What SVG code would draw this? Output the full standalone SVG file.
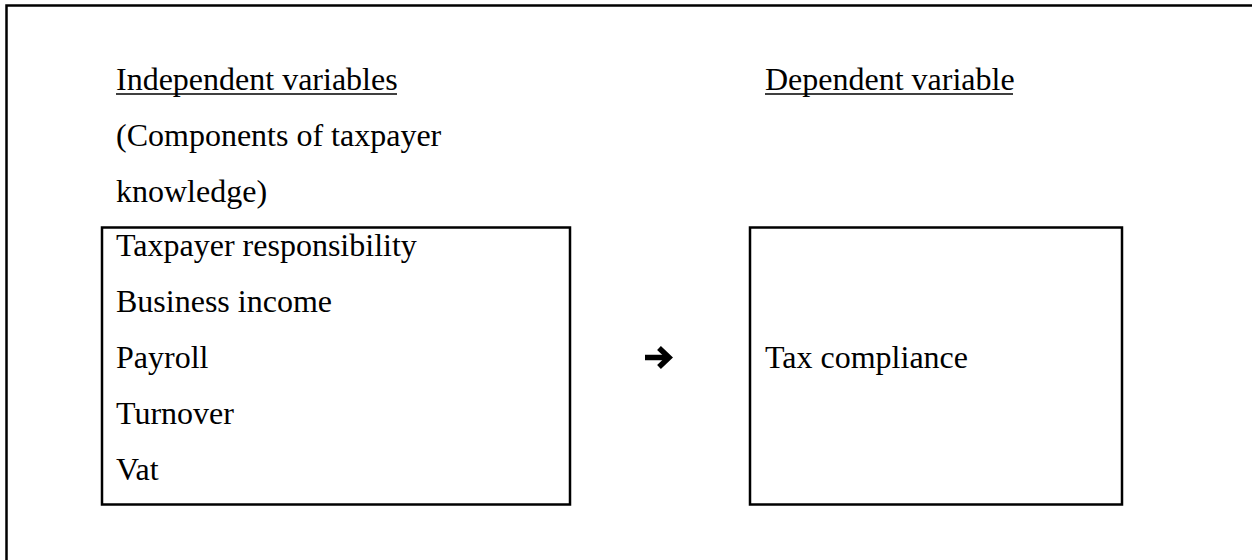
<svg xmlns="http://www.w3.org/2000/svg" width="1252" height="560" viewBox="0 0 1252 560">
<style>
text{font-family:"Liberation Serif","Times New Roman",serif;font-size:32px;fill:#000}
.box{fill:#fff;stroke:#000;stroke-width:2.5}
.ul{stroke:#000;stroke-width:1.6}
</style>
<rect x="0" y="0" width="1252" height="560" fill="#fff"/>
<rect x="6.5" y="5.5" width="1260" height="570" fill="none" stroke="#000" stroke-width="2.5"/>
<g id="header-independent">
<text x="116" y="90">Independent variables</text>
<line class="ul" x1="116" y1="94" x2="397" y2="94"/>
<text x="116" y="146">(Components of taxpayer</text>
<text x="116" y="202">knowledge)</text>
</g>
<g id="header-dependent">
<text x="765" y="90">Dependent variable</text>
<line class="ul" x1="765" y1="94" x2="1013" y2="94"/>
</g>
<g id="independent-box">
<rect class="box" x="102" y="227.5" width="468" height="277"/>
<text x="116" y="256">Taxpayer responsibility</text>
<text x="116" y="312">Business income</text>
<text x="116" y="368">Payroll</text>
<text x="116" y="424">Turnover</text>
<text x="116" y="480">Vat</text>
</g>
<g id="dependent-box">
<rect class="box" x="750" y="227.5" width="372" height="277"/>
<text x="765" y="368">Tax compliance</text>
</g>
<g id="connectors">
<line x1="645" y1="357.5" x2="667" y2="357.5" stroke="#000" stroke-width="5.5"/>
<polyline points="659,348 669,357.5 659,367" fill="none" stroke="#000" stroke-width="5.5" stroke-linejoin="miter"/>
</g>
</svg>
